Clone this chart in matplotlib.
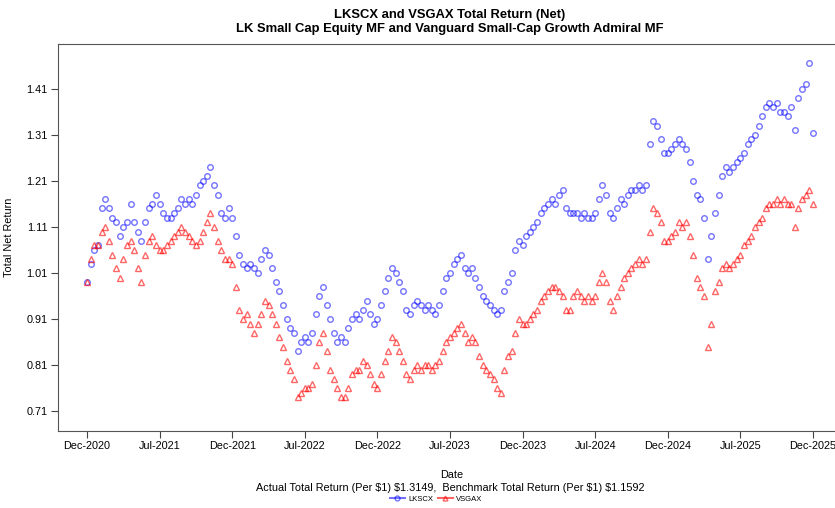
import numpy as np
import matplotlib
matplotlib.use("Agg")
import matplotlib.pyplot as plt
from matplotlib.lines import Line2D

plt.rcParams['font.family'] = ['Liberation Sans', 'DejaVu Sans']

# values, evenly spaced in trading-day order
lkscx = [0.99, 1.03, 1.06, 1.07, 1.15, 1.17, 1.15, 1.13, 1.12, 1.09,
         1.11, 1.12, 1.16, 1.12, 1.10, 1.08, 1.12, 1.15, 1.16, 1.18,
         1.16, 1.14, 1.13, 1.13, 1.14, 1.15, 1.17, 1.16, 1.17, 1.16,
         1.18, 1.20, 1.21, 1.22, 1.24, 1.20, 1.18, 1.14, 1.13, 1.15,
         1.13, 1.09, 1.05, 1.03, 1.02, 1.03, 1.02, 1.01, 1.04, 1.06,
         1.05, 1.02, 0.99, 0.97, 0.94, 0.91, 0.89, 0.88, 0.84, 0.86,
         0.87, 0.86, 0.88, 0.92, 0.96, 0.98, 0.94, 0.91, 0.88, 0.86,
         0.87, 0.86, 0.89, 0.91, 0.92, 0.91, 0.93, 0.95, 0.92, 0.90,
         0.91, 0.94, 0.97, 1.00, 1.02, 1.01, 0.99, 0.97, 0.93, 0.92,
         0.94, 0.95, 0.94, 0.93, 0.94, 0.93, 0.92, 0.94, 0.97, 1.00,
         1.01, 1.03, 1.04, 1.05, 1.02, 1.01, 1.02, 1.00, 0.98, 0.96,
         0.95, 0.94, 0.93, 0.92, 0.93, 0.97, 0.99, 1.01, 1.06, 1.08,
         1.07, 1.09, 1.10, 1.11, 1.12, 1.14, 1.15, 1.16, 1.17, 1.16,
         1.18, 1.19, 1.15, 1.14, 1.14, 1.14, 1.13, 1.14, 1.13, 1.13,
         1.14, 1.17, 1.20, 1.18, 1.14, 1.13, 1.15, 1.17, 1.16, 1.18,
         1.19, 1.19, 1.20, 1.19, 1.20, 1.29, 1.34, 1.33, 1.30, 1.27,
         1.27, 1.28, 1.29, 1.30, 1.29, 1.28, 1.25, 1.21, 1.18, 1.17,
         1.13, 1.04, 1.09, 1.14, 1.18, 1.22, 1.24, 1.23, 1.24, 1.25,
         1.26, 1.27, 1.29, 1.30, 1.31, 1.33, 1.35, 1.37, 1.38, 1.37,
         1.38, 1.36, 1.36, 1.35, 1.37, 1.32, 1.39, 1.41, 1.42, 1.465,
         1.3149]
vsgax = [0.99, 1.04, 1.07, 1.07, 1.10, 1.11, 1.08, 1.05, 1.02, 1.00,
         1.04, 1.07, 1.08, 1.06, 1.02, 0.99, 1.05, 1.08, 1.09, 1.07,
         1.06, 1.06, 1.07, 1.08, 1.09, 1.10, 1.11, 1.10, 1.09, 1.08,
         1.07, 1.08, 1.10, 1.12, 1.14, 1.11, 1.08, 1.06, 1.04, 1.04,
         1.03, 0.98, 0.93, 0.91, 0.92, 0.90, 0.88, 0.90, 0.92, 0.95,
         0.94, 0.92, 0.90, 0.87, 0.85, 0.82, 0.80, 0.78, 0.74, 0.75,
         0.76, 0.76, 0.77, 0.81, 0.86, 0.88, 0.84, 0.80, 0.78, 0.76,
         0.74, 0.74, 0.76, 0.79, 0.80, 0.80, 0.82, 0.81, 0.79, 0.77,
         0.76, 0.79, 0.82, 0.84, 0.87, 0.86, 0.84, 0.82, 0.79, 0.78,
         0.80, 0.81, 0.80, 0.81, 0.81, 0.80, 0.81, 0.82, 0.84, 0.86,
         0.87, 0.88, 0.89, 0.90, 0.88, 0.86, 0.87, 0.86, 0.83, 0.81,
         0.80, 0.79, 0.78, 0.76, 0.75, 0.80, 0.83, 0.84, 0.88, 0.91,
         0.90, 0.90, 0.91, 0.92, 0.93, 0.95, 0.96, 0.97, 0.98, 0.98,
         0.97, 0.96, 0.93, 0.93, 0.96, 0.97, 0.96, 0.95, 0.96, 0.95,
         0.96, 0.99, 1.01, 0.99, 0.95, 0.93, 0.96, 0.98, 1.00, 1.01,
         1.02, 1.03, 1.04, 1.03, 1.04, 1.10, 1.15, 1.14, 1.12, 1.08,
         1.08, 1.09, 1.10, 1.12, 1.11, 1.12, 1.09, 1.05, 1.00, 0.98,
         0.96, 0.85, 0.90, 0.97, 0.99, 1.02, 1.03, 1.02, 1.03, 1.04,
         1.05, 1.07, 1.08, 1.09, 1.11, 1.12, 1.13, 1.15, 1.16, 1.16,
         1.17, 1.16, 1.17, 1.16, 1.16, 1.11, 1.15, 1.17, 1.18, 1.19,
         1.1592]
tick_labels = ['Dec-2020', 'Jul-2021', 'Dec-2021', 'Jul-2022', 'Dec-2022', 'Jul-2023',
               'Dec-2023', 'Jul-2024', 'Dec-2024', 'Jul-2025', 'Dec-2025']
y_ticks = [0.71, 0.81, 0.91, 1.01, 1.11, 1.21, 1.31, 1.41]

x = np.linspace(0, len(tick_labels) - 1, len(lkscx))

fig = plt.figure(figsize=(8.35, 5.08), dpi=100)
ax = fig.add_axes([58 / 835, 77 / 508, 784 / 835, 387 / 508])

ax.plot(x, lkscx, linestyle='none', marker='o', markersize=4, markerfacecolor='none',
        markeredgecolor=(0, 0, 1, 0.55), markeredgewidth=1.0)
ax.plot(x, vsgax, linestyle='none', marker='^', markersize=5, markerfacecolor='none',
        markeredgecolor=(1, 0, 0, 0.6), markeredgewidth=1.0)

ax.set_xlim(-0.4, 10.4)
ax.set_ylim(0.667, 1.507)
ax.set_xticks(range(len(tick_labels)))
ax.set_xticklabels(tick_labels, fontsize=7.8)
ax.set_yticks(y_ticks)
ax.set_yticklabels(['%.2f' % v for v in y_ticks], fontsize=7.8)
ax.tick_params(direction='out', length=5, color='#444444', pad=2.5)
for s in ax.spines.values():
    s.set_color('#555555')

ax.set_ylabel('Total Net Return', fontsize=7.8)
ax.yaxis.set_label_coords(-44 / 784, 0.5)

fig.text(450 / 835, 1 - 15 / 508, 'LKSCX and VSGAX Total Return (Net)', ha='center', va='center',
         fontsize=9.4, fontweight='bold')
fig.text(450 / 835, 1 - 29 / 508, 'LK Small Cap Equity MF and Vanguard Small-Cap Growth Admiral MF',
         ha='center', va='center', fontsize=9.4, fontweight='bold')
fig.text(452 / 835, 1 - 475 / 508, 'Date', ha='center', va='center', fontsize=7.8)
fig.text(450 / 835, 1 - 488 / 508,
         r'Actual Total Return (Per \$1) \$1.3149,  Benchmark Total Return (Per \$1) \$1.1592',
         ha='center', va='center', fontsize=7.8)

handles = [Line2D([], [], color=(0, 0, 1, 0.55), marker='o', markerfacecolor='none', markersize=3.5),
           Line2D([], [], color=(1, 0, 0, 0.6), marker='^', markerfacecolor='none', markersize=3.5)]
fig.legend(handles, ['LKSCX', 'VSGAX'], loc='center', bbox_to_anchor=(436 / 835, 1 - 499 / 508),
           ncol=2, frameon=False, fontsize=5.5, handlelength=2, columnspacing=0.6, handletextpad=0.4)

fig.savefig('out.png', dpi=100)
